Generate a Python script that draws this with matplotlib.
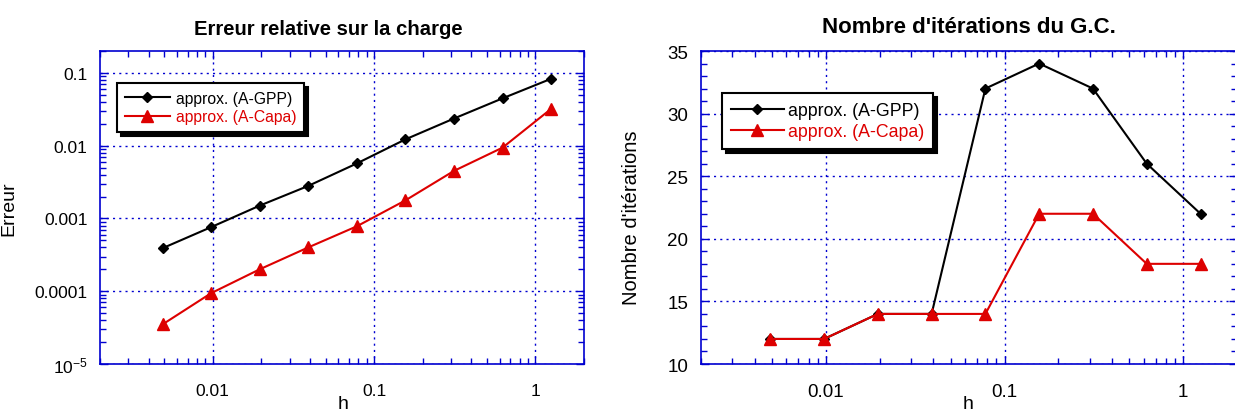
import numpy as np
import matplotlib
matplotlib.use('Agg')
import matplotlib.pyplot as plt
from matplotlib.ticker import LogLocator, MultipleLocator, NullFormatter, FixedLocator, FixedFormatter

plt.rcParams['font.family'] = ['Liberation Sans', 'DejaVu Sans']
plt.rcParams['mathtext.fontset'] = 'custom'
plt.rcParams['mathtext.rm'] = 'Liberation Sans'

# data
h = [0.0048828125, 0.009765625, 0.01953125, 0.0390625, 0.078125,
     0.15625, 0.3125, 0.625, 1.25]
err_gpp = [3.9e-4, 7.6e-4, 1.5e-3, 2.8e-3, 5.7e-3, 1.22e-2, 2.36e-2, 4.47e-2, 8.3e-2]
err_capa = [3.5e-5, 9.4e-5, 2.0e-4, 4.0e-4, 7.8e-4, 1.77e-3, 4.5e-3, 9.4e-3, 3.2e-2]
it_gpp = [12, 12, 14, 14, 32, 34, 32, 26, 22]
it_capa = [12, 12, 14, 14, 14, 22, 22, 18, 18]

lab_gpp = 'approx. (A-GPP)'
lab_capa = 'approx. (A-Capa)'
xticks = [0.01, 0.1, 1]
xticklabels = ['0.01', '0.1', '1']
err_ticks = [1e-5, 1e-4, 1e-3, 1e-2, 1e-1]
err_ticklabels = [r'$\mathregular{10^{-5}}$', '0.0001', '0.001', '0.01', '0.1']
it_ticks = [10, 15, 20, 25, 30, 35]

BLUE = '#0000d0'
RED = '#dd0000'
W, H = 1235, 414

fig = plt.figure(figsize=(W / 100, H / 100), dpi=100)
ax1 = fig.add_axes([100 / W, 1 - 365 / H, 484 / W, 313 / H])
ax2 = fig.add_axes([701 / W, 1 - 365 / H, 536 / W, 313 / H])


def style(ax, fs):
    ax.set_xscale('log')
    ax.set_xlim(0.002, 2)
    ax.xaxis.set_major_locator(FixedLocator(xticks))
    ax.xaxis.set_major_formatter(FixedFormatter(xticklabels))
    ax.xaxis.set_minor_locator(LogLocator(base=10, subs=np.arange(2, 10)))
    ax.xaxis.set_minor_formatter(NullFormatter())
    for s in ax.spines.values():
        s.set_color(BLUE)
        s.set_linewidth(1.2)
    ax.tick_params(which='both', direction='in', top=True, right=True,
                   color=BLUE, width=1.0, labelsize=fs)
    ax.tick_params(which='major', length=6)
    ax.tick_params(which='minor', length=4)
    ax.tick_params(axis='x', which='major', pad=14)
    ax.tick_params(axis='y', which='major', pad=9)
    ax.grid(True, which='major', color=BLUE, ls=(0, (1.5, 3)), lw=1.0)


# left panel: relative error
ax1.plot(h, err_gpp, color='black', lw=1.5, marker='D', ms=5.5, label=lab_gpp)
ax1.plot(h, err_capa, color=RED, lw=1.5, marker='^', ms=8, label=lab_capa)
ax1.set_yscale('log')
ax1.set_ylim(1e-5, 0.2)
style(ax1, 12.5)
ax1.yaxis.set_major_locator(FixedLocator(err_ticks))
ax1.yaxis.set_major_formatter(FixedFormatter(err_ticklabels))
ax1.yaxis.set_minor_locator(LogLocator(base=10, subs=np.arange(2, 10)))
ax1.yaxis.set_minor_formatter(NullFormatter())
ax1.set_title('Erreur relative sur la charge', fontsize=14.6, fontweight='bold',
              x=0.471, pad=12)
ax1.set_ylabel('Erreur', fontsize=14)
ax1.yaxis.set_label_coords(-0.171, 0.5)
ax1.set_xlabel('h', fontsize=14)
ax1.xaxis.set_label_coords(0.502, -0.1)

# right panel: number of CG iterations
ax2.plot(h, it_gpp, color='black', lw=1.5, marker='D', ms=5.5, label=lab_gpp)
ax2.plot(h, it_capa, color=RED, lw=1.5, marker='^', ms=8, label=lab_capa)
ax2.set_ylim(10, 35)
style(ax2, 13.5)
ax2.yaxis.set_major_locator(FixedLocator(it_ticks))
ax2.yaxis.set_minor_locator(MultipleLocator(1))
ax2.set_title("Nombre d'itérations du G.C.", fontsize=16, fontweight='bold', pad=13.5)
ax2.set_ylabel("Nombre d'itérations", fontsize=14.5)
ax2.yaxis.set_label_coords(-0.112, 0.47)
ax2.set_xlabel('h', fontsize=14)
ax2.xaxis.set_label_coords(0.498, -0.1)

legs = [(ax1, 11.3, (0.0345, 0.898), 2.9, 0.36),
        (ax2, 12.8, (0.0386, 0.865), 3.0, 0.23)]
for ax, fs, anchor, hl, tp in legs:
    leg = ax.legend(loc='upper left', bbox_to_anchor=anchor, borderaxespad=0,
                    fontsize=fs, fancybox=False, framealpha=1, edgecolor='black',
                    handlelength=hl, handletextpad=tp, borderpad=0.5,
                    labelspacing=0.22,
                    shadow={'ox': 3, 'oy': -3, 'color': 'black', 'alpha': 1})
    leg.get_frame().set_linewidth(1.5)
    leg.texts[1].set_color(RED)

fig.savefig('out.png', dpi=100)
